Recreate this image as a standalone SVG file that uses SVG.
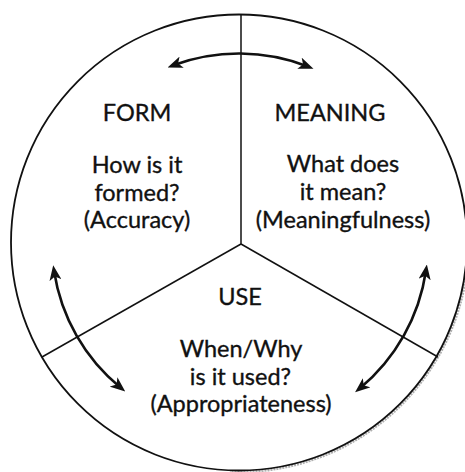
<svg xmlns="http://www.w3.org/2000/svg" width="465" height="472" viewBox="0 0 465 472">
<defs>
<style>
.t{font-family:Lato,"Noto Sans","Liberation Sans",sans-serif;font-size:23.5px;fill:#111;stroke:#111;stroke-width:0.35;text-anchor:middle}
.ln{fill:none;stroke:#111;stroke-width:1.5}
.arr{fill:none;stroke:#111;stroke-width:2.6;marker-start:url(#ah);marker-end:url(#ah)}
</style>
<marker id="ah" markerUnits="userSpaceOnUse" markerWidth="15" markerHeight="12" viewBox="0 0 15 12" refX="9" refY="6" orient="auto-start-reverse">
<path d="M0,0 L15,6 L0,12 L3.8,6 Z" fill="#111"/>
</marker>
</defs>
<rect width="465" height="472" fill="#fff"/>
<g id="circle">
<path d="M468,254 A229,229 0 0 1 230,471.5" fill="none" stroke="#b0b0b0" stroke-width="3" stroke-dasharray="2 1"/>
<circle cx="239" cy="242.5" r="228" fill="none" stroke="#111" stroke-width="1.8"/>
</g>
<g id="dividers">
<line class="ln" x1="241" y1="244" x2="241" y2="14.5"/>
<line class="ln" x1="241" y1="244" x2="42" y2="357"/>
<line class="ln" x1="241" y1="244" x2="438" y2="357"/>
</g>
<g id="connectors">
<path class="arr" d="M173.2,65.3 A189.5,189.5 0 0 1 307.9,66.5"/>
<path class="arr" d="M54.1,271.3 A187,187 0 0 0 120.6,387.7"/>
<path class="arr" d="M426,270.5 A189,189 0 0 1 359.7,388.5"/>
</g>
<g id="form">
<text class="t" x="137" y="121">FORM</text>
<text class="t" x="137" y="173">How is it</text>
<text class="t" x="137" y="201">formed?</text>
<text class="t" x="137" y="228">(Accuracy)</text>
</g>
<g id="meaning">
<text class="t" x="330" y="121">MEANING</text>
<text class="t" x="343" y="172">What does</text>
<text class="t" x="343" y="200">it mean?</text>
<text class="t" x="343" y="228">(Meaningfulness)</text>
</g>
<g id="use">
<text class="t" x="240" y="305">USE</text>
<text class="t" x="241" y="357">When/Why</text>
<text class="t" x="240.5" y="385">is it used?</text>
<text class="t" x="241" y="412">(Appropriateness)</text>
</g>
</svg>
